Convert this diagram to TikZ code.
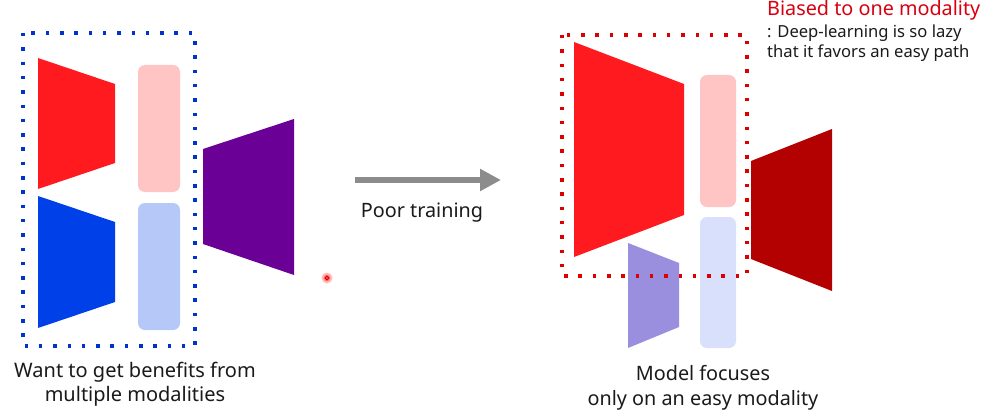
\documentclass[tikz,border=0pt]{standalone}
\usepackage{fontspec}
\usetikzlibrary{arrows.meta}
\setmainfont{Noto Sans}
\definecolor{cRed}{HTML}{FF1A1F}
\definecolor{cPink}{HTML}{FFC5C5}
\definecolor{cBlue}{HTML}{0040E8}
\definecolor{cLBlue}{HTML}{B5C8F8}
\definecolor{cPurple}{HTML}{6B0096}
\definecolor{cDRed}{HTML}{B30000}
\definecolor{cLav}{HTML}{9A8FDE}
\definecolor{cLLav}{HTML}{D9E0FB}
\definecolor{cDotB}{HTML}{0033CC}
\definecolor{cDotR}{HTML}{DD0000}
\definecolor{cArrow}{HTML}{8C8C8C}
\definecolor{cTitle}{HTML}{D80010}
\definecolor{cText}{HTML}{1A1A1A}
\tikzset{
  dotbox/.style={line width=3.5pt, dash pattern=on 3.5pt off 10.8pt},
  feat/.style={rounded corners=7pt},
  lbl/.style={align=center, text=cText, font=\fontsize{20}{24}\selectfont, inner sep=0pt},
}
\begin{document}
\begin{tikzpicture}[x=1pt,y=-1pt]
\useasboundingbox (0,0) rectangle (996,412);
\fill[white] (0,0) rectangle (996,412);
% left group
\fill[cRed] (38,58) -- (115,84) -- (115,163) -- (38,189) -- cycle;
\fill[cBlue] (38,196) -- (115,222) -- (115,302) -- (38,328) -- cycle;
\fill[cPink,feat] (138,65) rectangle (180,192);
\fill[cLBlue,feat] (138,203) rectangle (180,330);
\fill[cPurple] (203,149) -- (294,119) -- (294,275) -- (203,244) -- cycle;
\draw[cDotB,dotbox] (23,33) rectangle (195,346);
% pointer
\fill[red!25] (327,278) circle (5.5);
\fill[red!50] (327,278) circle (3.5);
\draw[red!90!black, line width=1pt] (327,278) circle (1.8);
% arrow
\coordinate (as) at (355,180);
\coordinate (ae) at (501,180);
\draw[cArrow, line width=6pt, -{Triangle[length=21pt,width=21pt]}] (as) -- (ae);
\node[lbl, font=\fontsize{19.8}{24}\selectfont] (poor) at (422,213) {Poor training};
% right group
\fill[cRed] (574,42) -- (684,84) -- (684,215) -- (574,257) -- cycle;
\fill[cPink,feat] (700,75) rectangle (736,207);
\fill[cLLav,feat] (700,217) rectangle (736,348);
\fill[cLav] (628,243) -- (679,263) -- (679,327) -- (628,348) -- cycle;
\fill[cDRed] (751,161) -- (832,129) -- (832,291) -- (751,259) -- cycle;
\draw[cDotR,dotbox] (562,35) rectangle (747,276);
% labels
\node[lbl, font=\fontsize{20}{23.5}\selectfont] (l1) at (135,384) {Want to get benefits from\\multiple modalities};
\node[lbl, font=\fontsize{19.8}{25}\selectfont] (l2) at (703,388) {Model focuses\\only on an easy modality};
\node[anchor=west, inner sep=0pt, text=cTitle, font=\fontsize{19.8}{22}\selectfont] (t1) at (767,10) {Biased to one modality};
\node[anchor=west, inner sep=0pt, align=left, text=cText, font=\fontsize{16.6}{20}\selectfont] (t2) at (767,43) {: Deep-learning is so lazy\\that it favors an easy path};
\end{tikzpicture}
\end{document}
